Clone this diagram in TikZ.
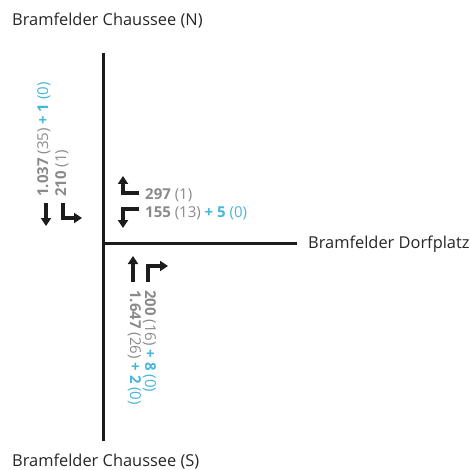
\documentclass[tikz,border=0pt]{standalone}
\usepackage{fontspec}
\setmainfont{Open Sans}
\usepackage{tikz}
\usetikzlibrary{arrows.meta}

\definecolor{numgray}{HTML}{8A8A8A}
\definecolor{addblue}{HTML}{45B7D7}
\definecolor{roadblack}{HTML}{1C1C1C}

% count with heavy vehicles in brackets, plus cyclists in blue
\newcommand{\cnt}[2]{\textbf{#1} (#2)}
\newcommand{\addcnt}[2]{\ \textcolor{addblue}{\textbf{+ #1} (#2)}}

\begin{document}
\begin{tikzpicture}[
    x=1pt, y=-1pt,
    road/.style={
        line width=3pt,
        draw=roadblack
    },
    lane/.style={
        line width=3.4pt,
        draw=roadblack,
        -{Triangle[length=8pt,width=10pt]}
    },
    roadname/.style={
        font=\fontsize{16.4}{19}\selectfont,
        text=black!85,
        inner sep=0pt
    },
    count/.style={
        font=\fontsize{15}{17}\selectfont,
        text=numgray,
        inner sep=0pt
    }
]
\useasboundingbox (0,0) rectangle (469,470);

% Roads
\coordinate (nEnd) at (103,53);
\coordinate (sEnd) at (103,441);
\coordinate (junc) at (103,243);
\coordinate (eEnd) at (297,243);
\draw[road] (nEnd) -- (sEnd);
\draw[road] (junc) -- (eEnd);

% Road names
\node[roadname, anchor=base west] (nName) at (12,26) {Bramfelder Chaussee (N)};
\node[roadname, anchor=base west] (sName) at (12,466) {Bramfelder Chaussee (S)};
\node[roadname, anchor=base west] (eName) at (308,248) {Bramfelder Dorfplatz};

% North approach
\coordinate (nStraightA) at (46,203);
\coordinate (nStraightB) at (46,226);
\coordinate (nTurnA) at (63,203);
\coordinate (nTurnC) at (63,218);
\coordinate (nTurnB) at (82,218);
\draw[lane] (nStraightA) -- (nStraightB);
\draw[lane] (nTurnA) -- (nTurnC) -- (nTurnB);
\node[count, rotate=90, anchor=base west] (nStraight) at (48,197)
    {\cnt{1.037}{35}\addcnt{1}{0}};
\node[count, rotate=90, anchor=base west] (nTurn) at (66,197)
    {\cnt{210}{1}};

% East approach
\coordinate (eRightA) at (139,193);
\coordinate (eRightC) at (123,193);
\coordinate (eRightB) at (123,176);
\coordinate (eLeftA) at (139,209);
\coordinate (eLeftC) at (123,209);
\coordinate (eLeftB) at (123,228);
\draw[lane] (eRightA) -- (eRightC) -- (eRightB);
\draw[lane] (eLeftA) -- (eLeftC) -- (eLeftB);
\node[count, anchor=base west] (eRight) at (145,199) {\cnt{297}{1}};
\node[count, anchor=base west] (eLeft) at (145,217)
    {\cnt{155}{13}\addcnt{5}{0}};

% South approach
\coordinate (sStraightA) at (133,282);
\coordinate (sStraightB) at (133,256);
\coordinate (sTurnA) at (148,282);
\coordinate (sTurnC) at (148,266);
\coordinate (sTurnB) at (168,266);
\draw[lane] (sStraightA) -- (sStraightB);
\draw[lane] (sTurnA) -- (sTurnC) -- (sTurnB);
\node[count, rotate=-90, anchor=base west] (sStraight) at (130,290)
    {\cnt{1.647}{26}\addcnt{2}{0}};
\node[count, rotate=-90, anchor=base west] (sTurn) at (145,290)
    {\cnt{200}{16}\addcnt{8}{0}};
\end{tikzpicture}
\end{document}
